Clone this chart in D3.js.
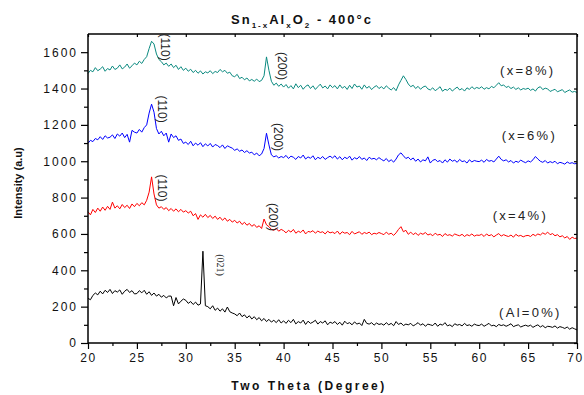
<!DOCTYPE html>
<html><head><meta charset="utf-8">
<script src="https://cdn.jsdelivr.net/npm/d3@7/dist/d3.min.js"></script>
<style>body{margin:0;background:#fff}svg{display:block;font-family:"Liberation Sans",Arial,sans-serif}</style>
</head><body><svg id="c" width="584" height="395"></svg>
<script>
// two-theta grid: 20 to 70 deg, 0.25 step
const twoTheta = d3.range(0, 201).map(i => 20 + i * 0.25);

const seriesNames = ["x=8%", "x=6%", "x=4%", "Al=0%"];

const teal8 = [
1483,1500,1492,1515,1498,1507,1520,1495,1510,1502,1524,1505,1512,1530,1508,1518,1535,1512,1525,1540,
1530,1550,1538,1560,1575,1620,1660,1645,1590,1560,1548,1530,1540,1522,1535,1515,1528,1505,1520,1500,
1512,1495,1506,1488,1500,1484,1497,1480,1492,1486,1498,1482,1494,1488,1505,1492,1500,1484,1490,1470,
1465,1478,1455,1462,1448,1458,1442,1450,1440,1452,1438,1445,1470,1574,1500,1440,1418,1430,1412,1425,
1408,1422,1402,1416,1398,1426,1405,1418,1396,1412,1420,1400,1415,1395,1410,1424,1403,1414,1398,1420,
1405,1416,1398,1420,1402,1412,1395,1418,1400,1425,1408,1414,1396,1420,1402,1412,1394,1408,1416,1400,
1410,1398,1415,1402,1392,1405,1388,1420,1445,1470,1450,1425,1410,1418,1400,1412,1396,1408,1414,1398,
1392,1404,1388,1398,1410,1385,1396,1390,1402,1386,1398,1408,1392,1400,1386,1404,1395,1410,1398,1406,
1400,1410,1396,1405,1398,1412,1404,1418,1432,1415,1420,1406,1412,1400,1408,1395,1404,1392,1400,1396,
1402,1390,1398,1386,1404,1410,1394,1402,1398,1384,1390,1396,1382,1388,1394,1378,1386,1392,1380,1384,
1378];

const blue6 = [
1099,1115,1108,1125,1118,1135,1120,1140,1128,1132,1145,1125,1150,1138,1155,1130,1148,1105,1170,1160,
1155,1175,1160,1185,1200,1265,1314,1270,1180,1150,1165,1140,1155,1105,1150,1130,1140,1115,1122,1098,
1105,1092,1110,1085,1100,1088,1102,1080,1096,1084,1098,1078,1092,1086,1075,1090,1070,1085,1078,1072,
1060,1068,1055,1062,1048,1058,1045,1050,1035,1045,1030,1040,1070,1154,1090,1035,1024,1030,1018,1026,
1020,1032,1015,1028,1022,1010,1026,1018,1034,1012,1024,1016,1030,1008,1022,1014,1026,1010,1020,1028,
1018,1030,1012,1025,1008,1022,1014,1028,1006,1020,1012,1026,1010,1018,1004,1022,1012,1016,1008,1020,
1010,1002,1015,998,1008,995,1012,1035,1046,1030,1015,1022,1008,1018,1000,1012,996,1008,1002,1024,
990,1005,1010,998,1004,990,1008,995,1012,1000,1006,994,1010,998,1002,990,1008,996,1004,1000,
998,1006,994,1010,1000,1004,996,1012,1028,1010,1002,1008,996,1004,990,1000,994,1006,998,992,
1002,996,1008,1026,1012,1000,994,1004,990,998,992,1000,986,994,990,984,996,988,992,986,
988];

const red4 = [
722,705,735,718,742,725,748,730,752,735,775,742,755,738,762,745,758,740,765,750,
768,755,772,760,785,830,914,820,760,742,750,735,745,728,740,725,738,722,735,720,
728,715,725,700,712,680,705,692,708,690,702,685,698,680,692,675,688,670,680,665,
675,660,670,652,664,648,658,642,652,636,645,630,682,650,640,625,620,630,615,625,
618,606,620,610,625,604,615,608,622,600,614,610,618,604,616,608,612,600,615,606,
610,602,616,598,612,604,608,596,614,600,606,612,598,608,602,610,596,604,600,608,
602,596,610,598,604,592,606,625,640,612,620,598,610,596,606,592,604,598,608,594,
600,590,604,594,598,586,602,592,596,588,600,594,590,598,586,596,590,600,588,594,
592,598,586,600,590,596,584,594,602,588,596,590,586,594,582,598,588,592,584,590,
592,586,598,590,600,594,606,598,610,596,602,590,596,584,590,578,586,570,582,575,
577];

const black0 = [
246,238,262,275,265,285,270,290,278,295,272,288,280,292,268,285,295,278,288,270,
272,288,276,290,268,282,262,275,258,268,252,262,248,258,258,205,250,215,230,242,
235,218,228,212,225,208,215,505,205,200,188,205,180,192,175,188,170,198,172,165,
160,150,165,145,155,138,150,132,145,128,140,122,135,118,130,115,125,112,128,110,
122,108,125,112,130,105,118,110,126,102,120,108,115,125,104,118,110,122,100,115,
108,118,102,114,98,120,106,112,100,116,104,110,96,130,108,104,112,98,110,102,
106,98,112,100,108,95,118,102,110,96,104,100,108,94,102,112,98,106,92,104,
100,96,110,92,104,98,112,94,100,90,106,98,102,94,108,96,100,92,104,98,
96,104,92,100,108,94,98,90,102,96,100,92,98,106,90,96,100,88,94,98,
92,98,86,94,100,88,96,84,92,90,86,94,82,90,86,80,88,76,84,78,
72];

const seriesColors = ["#0b8a80", "#0000ff", "#ff0000", "#000000"];
const seriesData = [teal8, blue6, red4, black0];

const xTicks = [20,25,30,35,40,45,50,55,60,65,70];
const yTicks = [0,200,400,600,800,1000,1200,1400,1600];

// annotation labels (theta, intensity)
const peakText = ["(110)","(200)","(110)","(200)","(110)","(200)","(021)"];
const peakTheta = [27.87,39.84,27.57,39.43,27.57,38.92,33.5];
const peakValue = [1628,1524,1287,1133,853,693,429];
const sampleText = ["(x=8%)","(x=6%)","(x=4%)","(Al=0%)"];
const sampleTheta = [62.13,62.3,61.38,62.03];
const sampleValue = [1474,1117,677,145];

const W = 584, H = 395;
const m = {l:88, r:7, t:34, b:52};
const svg = d3.select("#c");
const x = d3.scaleLinear().domain([20,70]).range([m.l, W - m.r]);
const y = d3.scaleLinear().domain([0,1700]).range([H - m.b, m.t]);

// data lines
const line = d3.line().x((d,i) => x(twoTheta[i])).y(d => y(d));
seriesData.forEach((s, k) => {
  svg.append("path").datum(s).attr("d", line)
    .attr("fill","none").attr("stroke", seriesColors[k]).attr("stroke-width",1)
    .attr("stroke-linejoin","round");
});

// axes
const minorX = d3.range(22.5, 70, 5);
const minorY = d3.range(100, 1700, 200);
const axColor = "#000";

const gB = svg.append("g").attr("transform",`translate(0,${H-m.b})`)
  .call(d3.axisBottom(x).tickValues(xTicks).tickSize(6).tickPadding(4).tickFormat(d3.format("d")));
svg.append("g").attr("transform",`translate(0,${H-m.b})`)
  .call(d3.axisBottom(x).tickValues(minorX).tickSize(3).tickFormat(""))
  .select(".domain").remove();
const gL = svg.append("g").attr("transform",`translate(${m.l},0)`)
  .call(d3.axisLeft(y).tickValues(yTicks).tickSize(7).tickPadding(5).tickFormat(d3.format("d")));
svg.append("g").attr("transform",`translate(${m.l},0)`)
  .call(d3.axisLeft(y).tickValues(minorY).tickSize(4).tickFormat(""))
  .select(".domain").remove();
const gT = svg.append("g").attr("transform",`translate(0,${m.t})`)
  .call(d3.axisBottom(x).tickValues(xTicks).tickSize(3).tickFormat(""));
const gR = svg.append("g").attr("transform",`translate(${W-m.r},0)`)
  .call(d3.axisLeft(y).tickValues(yTicks).tickSize(3).tickFormat(""));

svg.selectAll(".domain").attr("stroke-width",1.5).attr("stroke",axColor);
svg.selectAll(".tick line").attr("stroke-width",1.2).attr("stroke",axColor);
gB.selectAll("text").attr("font-size",12).attr("fill","#111").attr("letter-spacing","1.5px")
  .style("font-family","'Liberation Sans',Arial,sans-serif");
gB.selectAll(".tick").filter(d => d === 70).select("text").attr("dx","-2px");
gL.selectAll("text").attr("font-size",12).attr("fill","#111").attr("letter-spacing","2px")
  .attr("dx","2px").style("font-family","'Liberation Sans',Arial,sans-serif");
gB.select(".domain").attr("d",`M${m.l},0H${W-m.r}`);
gL.select(".domain").attr("d",`M0,${m.t}V${H-m.b}`);
gT.select(".domain").attr("d",`M${m.l},0H${W-m.r}`);
gR.select(".domain").attr("d",`M0,${m.t}V${H-m.b}`);

// title
const title = svg.append("text").attr("x",302).attr("y",24).attr("text-anchor","middle")
  .attr("font-size",13).attr("font-weight","bold").attr("letter-spacing","2px").attr("fill","#111");
title.append("tspan").text("Sn");
title.append("tspan").attr("font-size",8).attr("dy",4).text("1-x");
title.append("tspan").attr("dy",-4).text("Al");
title.append("tspan").attr("font-size",8).attr("dy",4).text("x");
title.append("tspan").attr("dy",-4).text("O");
title.append("tspan").attr("font-size",8).attr("dy",4).text("2");
title.append("tspan").attr("dy",-4).text(" - 400°c");

// axis titles
svg.append("text").attr("transform",`translate(22,183) rotate(-90)`).attr("text-anchor","middle")
  .attr("font-size",11).attr("font-weight","bold").attr("fill","#111").text("Intensity (a.u)");
svg.append("text").attr("x",309).attr("y",390).attr("text-anchor","middle")
  .attr("font-size",12).attr("font-weight","bold").attr("letter-spacing","2.5px").attr("fill","#111")
  .text("Two Theta (Degree)");

// peak labels
peakText.forEach((t,i) => {
  const serif = t === "(021)";
  svg.append("text")
    .attr("transform",`translate(${x(peakTheta[i])},${y(peakValue[i])}) rotate(90)`)
    .attr("text-anchor","middle").attr("dominant-baseline","central")
    .attr("font-size", serif ? 10 : 12)
    .style("font-family", serif ? "'Liberation Serif','Times New Roman',serif" : "'Liberation Sans',Arial,sans-serif")
    .attr("fill","#222").text(t);
});

// sample labels
sampleText.forEach((t,i) => {
  svg.append("text").attr("x",x(sampleTheta[i])).attr("y",y(sampleValue[i]))
    .attr("font-size",13).attr("letter-spacing","2.3px").attr("fill","#222").text(t);
});
</script></body></html>
